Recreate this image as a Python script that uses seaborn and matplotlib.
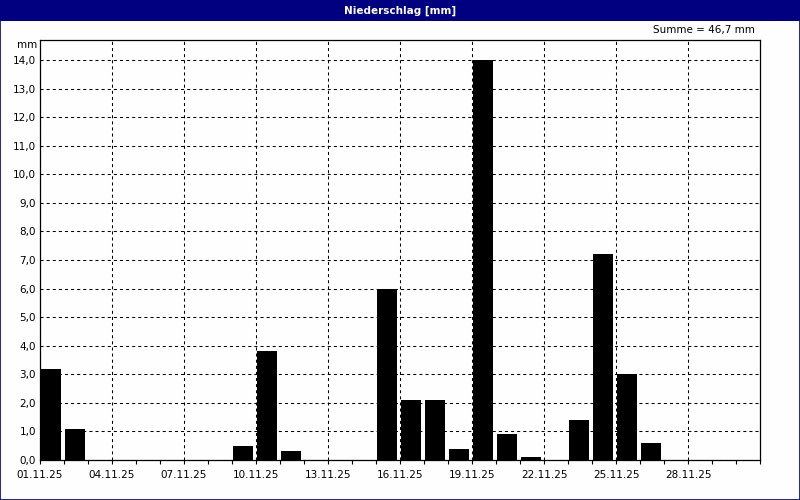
import matplotlib
matplotlib.use("Agg")
import matplotlib.pyplot as plt
import pandas as pd
import seaborn as sns
from matplotlib.patches import Rectangle

# Niederschlag pro Tag, November 2025
days = list(range(1, 31))
niederschlag = [3.2, 1.1, 0, 0, 0, 0, 0, 0, 0.5, 3.8,
                0.3, 0, 0, 0, 6.0, 2.1, 2.1, 0.4, 14.0, 0.9,
                0.1, 0, 1.4, 7.2, 3.0, 0.6, 0, 0, 0, 0]
tick_days = [1, 4, 7, 10, 13, 16, 19, 22, 25, 28]
tick_labels = ['01.11.25', '04.11.25', '07.11.25', '10.11.25', '13.11.25',
               '16.11.25', '19.11.25', '22.11.25', '25.11.25', '28.11.25']
y_ticks = list(range(0, 15))
y_labels = ['0,0', '1,0', '2,0', '3,0', '4,0', '5,0', '6,0', '7,0',
            '8,0', '9,0', '10,0', '11,0', '12,0', '13,0', '14,0']
summe = '46,7'

navy = '#000080'
bg = '#fdfefd'

plt.rcParams['font.family'] = ['DejaVu Sans']
plt.rcParams['lines.scale_dashes'] = False

df = pd.DataFrame({'tag': days, 'mm': niederschlag})
# die Balken beginnen am Tagesstrich und reichen nach rechts
df['mitte'] = df['tag'] + 0.46

fig = plt.figure(figsize=(8, 5), dpi=100, facecolor=bg)
ax = fig.add_axes([0.05, 0.08, 0.90, 0.84], facecolor=bg)

sns.barplot(data=df, x='mitte', y='mm', native_scale=True, width=0.83,
            color='black', saturation=1, errorbar=None, linewidth=0, ax=ax)

ax.set_xlim(1, 31)
ax.set_ylim(0, 14.7)
ax.set_xlabel('')
ax.set_ylabel('')

ax.set_xticks(tick_days)
ax.set_xticklabels(tick_labels)
ax.set_xticks(days + [31], minor=True)
ax.set_yticks(y_ticks)
ax.set_yticklabels(y_labels)

ax.set_axisbelow(True)
ax.grid(which='major', axis='both', color='black', linewidth=0.75,
        linestyle=(0, (2.2, 2.2)))

ax.tick_params(axis='y', length=0, pad=3, labelsize=7.5, colors='black')
ax.tick_params(axis='x', which='both', length=3, width=0.8, pad=4,
               labelsize=7.5, direction='out')
for s in ax.spines.values():
    s.set_linewidth(0.9)
    s.set_color('black')

# Titelleiste und Rahmen
fig.patches.append(Rectangle((0, 0.958), 1, 0.042, transform=fig.transFigure,
                             facecolor=navy, edgecolor='none', zorder=0))
fig.patches.append(Rectangle((0.0006, 0.001), 0.9988, 0.998, transform=fig.transFigure,
                             facecolor='none', edgecolor=navy, linewidth=1.2, zorder=5))
fig.text(0.5, 0.979, 'Niederschlag [mm]', color='white', fontsize=7.5,
         fontweight='bold', ha='center', va='center')
fig.text(0.944, 0.94, 'Summe = ' + summe + ' mm', fontsize=7.5,
         ha='right', va='center')
fig.text(0.046, 0.91, 'mm', fontsize=7.5, ha='right', va='center')

plt.savefig('out.png', dpi=100, facecolor=bg)
